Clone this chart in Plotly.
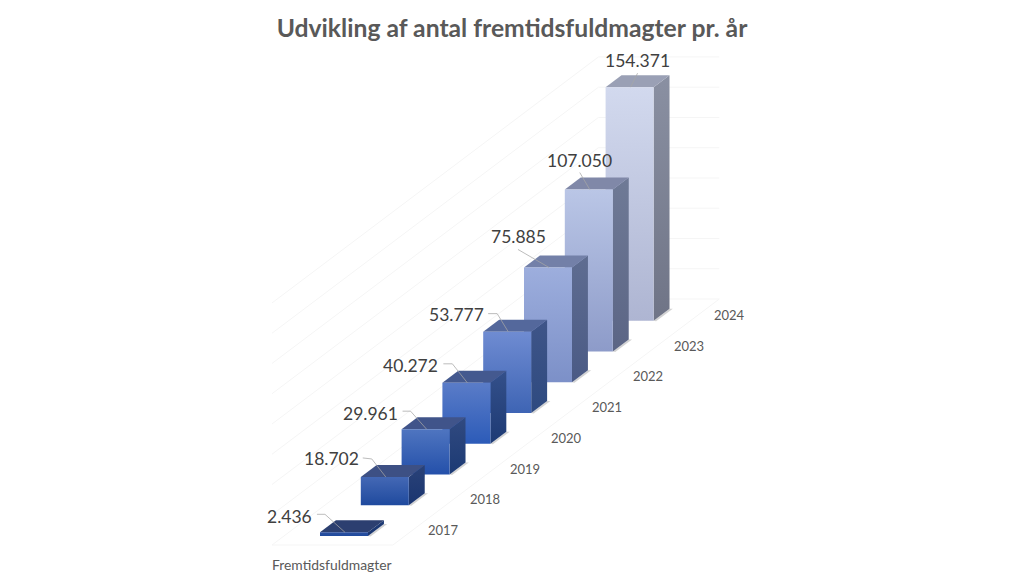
import plotly.graph_objects as go

title = "Udvikling af antal fremtidsfuldmagter pr. år"
series_name = "Fremtidsfuldmagter"
years = ["2017", "2018", "2019", "2020", "2021", "2022", "2023", "2024"]
values = [2436, 18702, 29961, 40272, 53777, 75885, 107050, 154371]
grid_values = [0, 20000, 40000, 60000, 80000, 100000, 120000, 140000, 160000]

front_top = ["#2B4F9E", "#4468B5", "#4F75C0", "#5A7CC8", "#6F8CD2", "#9DAEDD", "#BAC6E6", "#D2D9EE"]
front_bot = ["#1F4A9E", "#1F4A9E", "#2450AA", "#2C5BB8", "#3E64B4", "#7C90C8", "#8D9BC9", "#AEB5D2"]
side_top = ["#1D3A74", "#2A4278", "#314A80", "#34508A", "#3F5588", "#5F6D91", "#6F7A96", "#8A90A2"]
side_bot = ["#1A3570", "#1A3570", "#1C3A74", "#1D3A74", "#2E4A80", "#4A5A85", "#5B6585", "#6F7486"]
top_col = ["#2C3F70", "#3D5084", "#40548A", "#44598F", "#54689C", "#7380A8", "#8088A8", "#9AA0B5"]

# label offset from bar-top centre, pixels (right, down)
label_off = [(-62, -10), (-61, -12), (-63, -10), (-64, -11), (-59, -11), (-37, -25), (-17, -23), (0, -21)]
leader_start = [(-35, -12), (-30, -13), (-31, -12), (-31, -13), (-27, -12), (-38, -12), (-17, -11), (0, -8)]
leader_elbow = [(-27, -12), (-21, -12), (-23, -12), (-22, -13), (-18, -12), None, None, None]
leader_end = (-7, 6)

W, H = 1024, 581
STEP_X, STEP_Y = 40.8, 30.75      # px per category along the depth axis
PX_PER_UNIT = 1.513 / 1000        # px per value unit
X0, Y0 = 320, 536                 # front-left base of the first bar
K = STEP_Y / PX_PER_UNIT
BAR_S = 48 / STEP_X
BAR_D = 12 / STEP_Y
FLOOR_D0, FLOOR_D1 = -0.293, 7.707
WALL_S0, WALL_S1 = -0.883, 2.08
xr = [-X0 / STEP_X, (W - X0) / STEP_X]
yr = [-(H - Y0) / PX_PER_UNIT, Y0 / PX_PER_UNIT]


def proj(d, s, v):
    return d + s, v + d * K


def poly(points, top, bot=None, line=None):
    xs, ys = zip(*[proj(*p) for p in points])
    tr = dict(x=list(xs) + [xs[0]], y=list(ys) + [ys[0]], mode="lines", fill="toself",
              line=dict(width=0), hoverinfo="skip", showlegend=False)
    if bot is None:
        tr["fillcolor"] = top
    else:
        tr["fillgradient"] = dict(type="vertical", colorscale=[[0, bot], [1, top]])
    return go.Scatter(**tr)


def seg(points, color="#F5F5F5", width=1):
    xs, ys = zip(*[proj(*p) for p in points])
    return go.Scatter(x=list(xs), y=list(ys), mode="lines", line=dict(color=color, width=width),
                      hoverinfo="skip", showlegend=False)


fig = go.Figure()

# walls and floor
for g in grid_values:
    fig.add_trace(seg([(FLOOR_D0, WALL_S0, g), (FLOOR_D1, WALL_S0, g), (FLOOR_D1, WALL_S1, g)]))
fig.add_trace(seg([(FLOOR_D1, WALL_S1, 0), (FLOOR_D0, WALL_S1, 0), (FLOOR_D0, WALL_S0, 0)]))

annotations = []
# bars, back to front
for i in reversed(range(len(values))):
    v = values[i]
    d0, d1 = i, i + BAR_D
    s0, s1 = 0, BAR_S
    # shadow on the floor
    fig.add_trace(poly([(d0, s1, 0), (d0 - 0.02, s1 + 0.08, 0), (d1, s1 + 0.08, 0), (d1, s1, 0)],
                       "rgba(130,130,130,0.35)"))
    fig.add_trace(poly([(d0, s1, 0), (d1, s1, 0), (d1, s1, v), (d0, s1, v)], side_top[i], side_bot[i]))
    fig.add_trace(poly([(d0, s0, v), (d0, s1, v), (d1, s1, v), (d1, s0, v)], top_col[i]))
    fig.add_trace(poly([(d0, s0, 0), (d0, s1, 0), (d0, s1, v), (d0, s0, v)], front_top[i], front_bot[i]))

    cd, cs = i + BAR_D / 2, BAR_S / 2
    cx, cy = proj(cd, cs, v)
    pts = [leader_start[i]] + ([leader_elbow[i]] if leader_elbow[i] else []) + [leader_end]
    fig.add_trace(go.Scatter(x=[cx + p[0] / STEP_X for p in pts],
                             y=[cy - p[1] / PX_PER_UNIT for p in pts],
                             mode="lines", line=dict(color="#A6A6A6", width=0.75),
                             hoverinfo="skip", showlegend=False))
    annotations.append(dict(x=cx, y=cy, xref="x", yref="y", xshift=label_off[i][0], yshift=-label_off[i][1],
                            text=f"{v:,}".replace(",", "."), showarrow=False,
                            font=dict(family="Lato", size=17.5, color="#404040")))

    lx, ly = proj(cd, 2.84, 0)
    annotations.append(dict(x=lx, y=ly, xref="x", yref="y", text=years[i], showarrow=False,
                            font=dict(family="Lato", size=13, color="#595959")))

sx, sy = proj(FLOOR_D0, WALL_S0, 0)
annotations.append(dict(x=sx, y=sy, xref="x", yref="y", xshift=-2, yshift=-19, xanchor="left", text=series_name,
                        showarrow=False, font=dict(family="Lato", size=13.9, color="#595959")))

fig.update_layout(
    width=W, height=H, margin=dict(l=0, r=0, t=0, b=0),
    paper_bgcolor="white", plot_bgcolor="white", showlegend=False,
    title=dict(text=f"<b>{title}</b>", x=0.5, xanchor="center", y=0.952, yanchor="middle",
               font=dict(family="Lato", size=24.7, color="#595959")),
    xaxis=dict(range=xr, visible=False, fixedrange=True),
    yaxis=dict(range=yr, visible=False, fixedrange=True),
    annotations=annotations,
)
fig.write_html("out.html", config=dict(displayModeBar=False),
               post_script="document.body.style.margin='0';document.body.style.fontVariantLigatures='none';")
